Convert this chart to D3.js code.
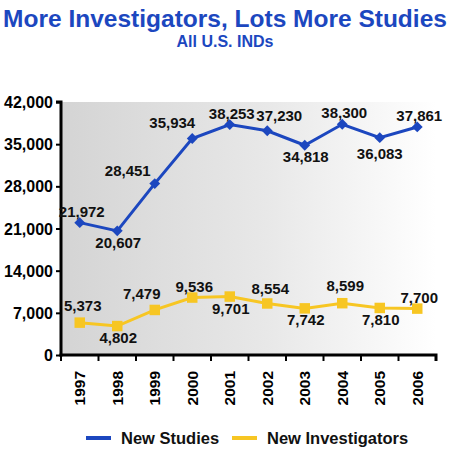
<!DOCTYPE html>
<html><head><meta charset="utf-8">
<script src="https://cdn.jsdelivr.net/npm/d3@7"></script>
<style>body{margin:0;background:#fff}svg{display:block}text{font-family:Arial,"Liberation Sans",sans-serif;font-weight:bold}</style>
</head><body>
<script>
const years = ["1997","1998","1999","2000","2001","2002","2003","2004","2005","2006"];
const newStudies = [21972,20607,28451,35934,38253,37230,34818,38300,36083,37861];
const newInvestigators = [5373,4802,7479,9536,9701,8554,7742,8599,7810,7700];
const studiesLabelPlace = ["above","below","leftFar","left","above","right","below","above","belowFar","above"];
const investLabelPlace = ["aboveHigh","below","leftNear","above","below","aboveMid","below","aboveHigh","below","above"];
const yTicks = [0,7000,14000,21000,28000,35000,42000];
const seriesNames = ["New Studies","New Investigators"];
const colors = ["#1c47bf","#f7c623"];

const W=450,H=453;
const m={l:61,r:14,t:102,b:98};
const svg=d3.select("body").append("svg").attr("width",W).attr("height",H);
const defs=svg.append("defs");
const g=defs.append("linearGradient").attr("id","bg").attr("x1","0").attr("x2","1").attr("y1","0").attr("y2","0");
g.append("stop").attr("offset","0").attr("stop-color","#d4d4d4");
g.append("stop").attr("offset","0.55").attr("stop-color","#e8e8e8");
g.append("stop").attr("offset","1").attr("stop-color","#ffffff");

const x=d3.scaleBand().domain(years).range([m.l,W-m.r]);
const y=d3.scaleLinear().domain([0,42000]).range([H-m.b,m.t]);

svg.append("rect").attr("x",m.l).attr("y",m.t).attr("width",W-m.r-m.l).attr("height",H-m.b-m.t).attr("fill","url(#bg)");

svg.append("text").attr("x",225).attr("y",27).attr("text-anchor","middle").attr("fill","#1c47bf").attr("font-size",24.5).text("More Investigators, Lots More Studies");
svg.append("text").attr("x",225).attr("y",47).attr("text-anchor","middle").attr("fill","#1c47bf").attr("font-size",16).text("All U.S. INDs");

const fmt=d3.format(",");
const yAx=svg.append("g").attr("transform",`translate(${m.l},0)`).call(d3.axisLeft(y).tickValues(yTicks).tickFormat(fmt).tickSize(5).tickPadding(3));
const xAx=svg.append("g").attr("transform",`translate(0,${H-m.b})`).call(d3.axisBottom(x).tickSize(0).tickFormat(""));
xAx.selectAll(".tk").data(d3.range(years.length+1)).enter().append("line")
  .attr("x1",i=>m.l+i*x.step()).attr("x2",i=>m.l+i*x.step()).attr("y1",0).attr("y2",6).attr("stroke","#000").attr("stroke-width",2);
[yAx,xAx].forEach(a=>{a.select(".domain").attr("stroke","#000").attr("stroke-width",3);a.selectAll(".tick line").attr("stroke","#000").attr("stroke-width",2);});
yAx.select(".domain").attr("d",`M-5,${m.t}H0V${H-m.b+1.5}`);
xAx.select(".domain").attr("d",`M${m.l-1.5},0H${W-m.r}V6`);
yAx.selectAll("text").attr("font-size",16).attr("fill","#000").attr("dy","0.35em").attr("font-family","Arial,'Liberation Sans',sans-serif").attr("font-weight","bold");
svg.append("g").selectAll("text").data(years).enter().append("text")
  .attr("transform",d=>`translate(${x(d)+x.bandwidth()/2+5.5},${H-m.b+16}) rotate(-90)`)
  .attr("text-anchor","end").attr("font-size",15.5).attr("fill","#000").text(d=>d);

const cx=d=>x(d)+x.bandwidth()/2;
const line=d3.line().x((v,i)=>cx(years[i])).y(v=>y(v));
const off={above:[2,-6],aboveMid:[3,-9],aboveHigh:[3,-12],below:[1,17],belowFar:[0,21],
  leftFar:[-27,-8],left:[-20,-11],leftNear:[-13,-11],right:[12,-10]};
function series(vals,places,color,marker){
  svg.append("path").attr("d",line(vals)).attr("fill","none").attr("stroke",color).attr("stroke-width",3);
  const sym=marker==="diamond"?d3.symbol().type(d3.symbolDiamond2).size(75):d3.symbol().type(d3.symbolSquare).size(110);
  svg.append("g").selectAll("path").data(vals).enter().append("path")
    .attr("transform",(v,i)=>`translate(${cx(years[i])},${y(v)})`).attr("d",sym).attr("fill",color);
  svg.append("g").selectAll("text").data(vals).enter().append("text")
    .attr("x",(v,i)=>cx(years[i])+off[places[i]][0]).attr("y",(v,i)=>y(v)+off[places[i]][1])
    .attr("text-anchor","middle").attr("font-size",15).attr("fill","#111").text(v=>fmt(v));
}
series(newInvestigators,investLabelPlace,colors[1],"square");
series(newStudies,studiesLabelPlace,colors[0],"diamond");

const lg=svg.append("g").attr("transform","translate(0,438)");
const lx=[86,232];
seriesNames.forEach((n,i)=>{
  lg.append("line").attr("x1",lx[i]).attr("x2",lx[i]+25).attr("y1",0).attr("y2",0).attr("stroke",colors[i]).attr("stroke-width",4);
  lg.append("text").attr("x",lx[i]+35).attr("y",6).attr("font-size",16.5).attr("fill","#111").text(n);
});
</script>
</body></html>
